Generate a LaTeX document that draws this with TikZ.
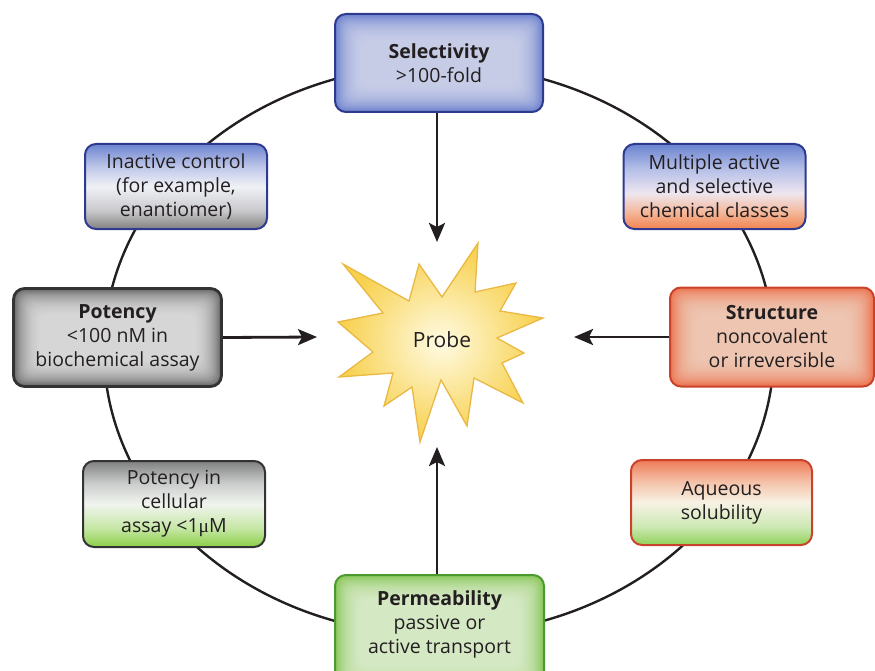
\documentclass[tikz,border=0pt]{standalone}
\usepackage{fontspec}
\setmainfont{Open Sans}
\newfontfamily\mufont{Liberation Serif}
\usetikzlibrary{arrows.meta}

\definecolor{ink}{HTML}{231F20}
\definecolor{navy}{HTML}{2E3A8F}
\definecolor{darkgr}{HTML}{333333}
\definecolor{redb}{HTML}{C9432B}
\definecolor{greenb}{HTML}{4C9A2E}

\definecolor{blueEdge}{HTML}{6A7FCD}
\definecolor{blueCtr}{HTML}{D8DCF1}
\definecolor{grayEdge}{HTML}{666666}
\definecolor{grayCtr}{HTML}{EBEBEB}
\definecolor{orEdge}{HTML}{EB724C}
\definecolor{orCtr}{HTML}{F8D6C4}
\definecolor{grEdge}{HTML}{86C655}
\definecolor{grCtr}{HTML}{E6F3D8}

\definecolor{inTop}{HTML}{6C84D0}
\definecolor{inTop2}{HTML}{BCC5E8}
\definecolor{inMid}{HTML}{F0F1F6}
\definecolor{inBot2}{HTML}{CACACD}
\definecolor{inBot}{HTML}{808080}

\definecolor{muTop}{HTML}{6A83D0}
\definecolor{muTop2}{HTML}{B6C0E8}
\definecolor{muMid}{HTML}{EEE6EF}
\definecolor{muBot2}{HTML}{F4B79A}
\definecolor{muBot}{HTML}{F1834F}

\definecolor{ceTop}{HTML}{808080}
\definecolor{ceTop2}{HTML}{CBCDCD}
\definecolor{ceMid}{HTML}{F0F4EE}
\definecolor{ceBot2}{HTML}{C6E7A6}
\definecolor{ceBot}{HTML}{8BCF47}

\definecolor{aqTop}{HTML}{EE7A58}
\definecolor{aqTop2}{HTML}{F5C3AA}
\definecolor{aqMid}{HTML}{F7F2E4}
\definecolor{aqBot2}{HTML}{CDE9B4}
\definecolor{aqBot}{HTML}{91D159}

\definecolor{starin}{HTML}{FFFBE3}
\definecolor{starout}{HTML}{F7D04C}
\definecolor{starb}{HTML}{EAB843}

\pgfdeclareverticalshading{inactshade}{100bp}{color(0bp)=(inBot); color(25bp)=(inBot); color(36bp)=(inBot2); color(50bp)=(inMid); color(62bp)=(inTop2); color(75bp)=(inTop); color(100bp)=(inTop)}
\pgfdeclareverticalshading{multshade}{100bp}{color(0bp)=(muBot); color(25bp)=(muBot); color(35bp)=(muBot2); color(46bp)=(muMid); color(60bp)=(muTop2); color(75bp)=(muTop); color(100bp)=(muTop)}
\pgfdeclareverticalshading{cellshade}{100bp}{color(0bp)=(ceBot); color(25bp)=(ceBot); color(36bp)=(ceBot2); color(50bp)=(ceMid); color(62bp)=(ceTop2); color(75bp)=(ceTop); color(100bp)=(ceTop)}
\pgfdeclareverticalshading{aqshade}{100bp}{color(0bp)=(aqBot); color(25bp)=(aqBot); color(36bp)=(aqBot2); color(50bp)=(aqMid); color(62bp)=(aqTop2); color(75bp)=(aqTop); color(100bp)=(aqTop)}

\tikzset{
  box/.style={draw, rounded corners=11pt, line width=2pt, align=center, inner sep=0pt,
    text=ink, font=\fontsize{19.5}{24}\selectfont},
  boxtext/.style={align=center, inner sep=0pt, text=ink, font=\fontsize{19.5}{24}\selectfont},
  glow/.style 2 args={fill=#1, path picture={
      \foreach \k in {1,...,24}{
        \fill[#2, opacity=0.085, rounded corners=9pt]
          ([shift={(\k*1.1pt,\k*1.1pt)}]path picture bounding box.south west) rectangle
          ([shift={(-\k*1.1pt,-\k*1.1pt)}]path picture bounding box.north east);
      }}},
  arr/.style={draw=ink, line width=2.8pt, -{Stealth[length=19pt,width=16pt,inset=4pt]}},
  ring/.style={draw=ink, line width=2.4pt},
  star/.style={draw=starb, line width=1.3pt, inner color=starin, outer color=starout}
}

\begin{document}
\begin{tikzpicture}[x=1pt,y=-1pt]
\useasboundingbox (0,0) rectangle (875,671);

% ring
\draw[ring] (439,350) ellipse [x radius=335pt, y radius=285pt];

% boxes
\node[box, draw=navy, glow={blueEdge}{blueCtr}, minimum width=208pt, minimum height=98pt] (sel) at (439,63)
  {\textbf{Selectivity}\\>100-fold};
\node[box, draw=navy, shading=inactshade, minimum width=182pt, minimum height=85pt] (inact) at (176,186.5)
  {Inactive control\\(for example,\\enantiomer)};
\node[box, draw=navy, shading=multshade, minimum width=182pt, minimum height=85pt] (mult) at (714.5,186.5)
  {Multiple active\\and selective\\chemical classes};
\node[box, draw=darkgr, line width=2.8pt, glow={grayEdge}{grayCtr}, minimum width=208pt, minimum height=98pt] (pot) at (117.5,337.5)
  {\textbf{Potency}\\<100 nM in\\biochemical assay};
\node[box, draw=redb, glow={orEdge}{orCtr}, minimum width=204pt, minimum height=99pt] (str) at (772,337)
  {\textbf{Structure}\\noncovalent\\or irreversible};
\node[box, draw=darkgr, shading=cellshade, minimum width=182pt, minimum height=86pt] (cell) at (174,504)
  {Potency in\\cellular\\assay <1{\mufont μ}M};
\node[box, draw=redb, shading=aqshade, minimum width=181pt, minimum height=85pt] (aq) at (721.5,502.5)
  {Aqueous\\solubility};
\node[box, draw=greenb, glow={grEdge}{grCtr}, minimum width=209pt, minimum height=116pt] (perm) at (439.5,633) {};
\node[boxtext] (permtxt) at (439.5,624)
  {\textbf{Permeability}\\passive or\\active transport};

% star
\draw[star] (343,264) -- (409,301) -- (419,264) -- (442,297) -- (478,243) -- (475,292)
  -- (516,283) -- (500,311) -- (543,318) -- (497,338) -- (524,353) -- (502,363)
  -- (523,403) -- (474,378) -- (467,426) -- (441,380) -- (420,442) -- (412,387)
  -- (384,406) -- (393,373) -- (339,377) -- (373,352) -- (338,322) -- (383,313) -- cycle;
\node[text=ink, font=\fontsize{21}{24}\selectfont] (probe) at (442,340) {Probe};

% arrows
\coordinate (tTop) at (437,242);
\coordinate (tLeft) at (317,337);
\coordinate (tRight) at (574,337);
\coordinate (tBot) at (437,447);
\draw[arr] (sel.south -| tTop) -- (tTop);
\draw[arr] (pot.east) -- (tLeft);
\draw[arr] (str.west) -- (tRight);
\draw[arr] (perm.north -| tBot) -- (tBot);
\end{tikzpicture}
\end{document}
